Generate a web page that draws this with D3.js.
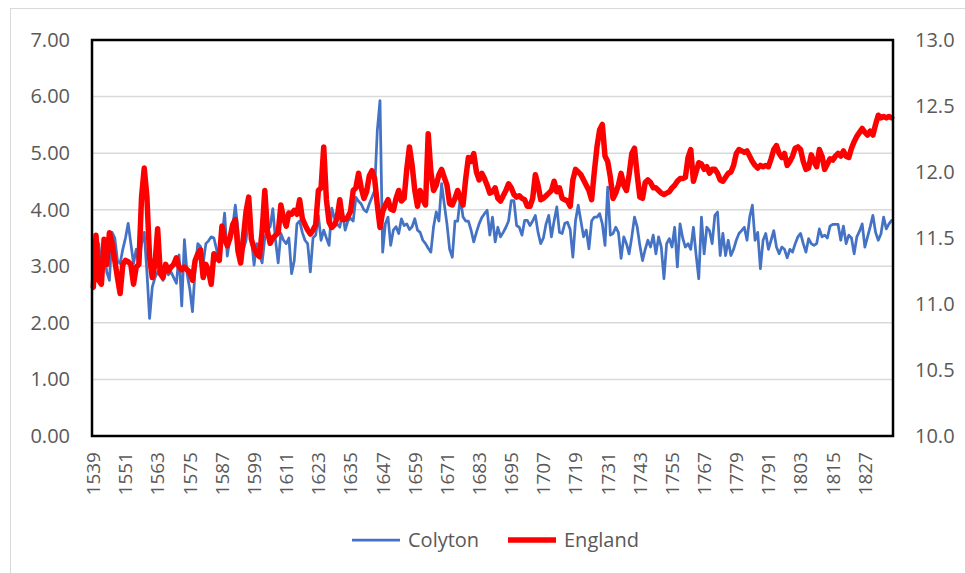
<!DOCTYPE html>
<html>
<head>
<meta charset="utf-8">
<script src="https://cdn.jsdelivr.net/npm/d3@7"></script>
<style>
  html, body { margin: 0; padding: 0; background: #ffffff; }
  svg { display: block; }
  text { font-family: "Open Sans", "Liberation Sans", sans-serif; fill: #595959; }
</style>
</head>
<body>
<svg id="chart" width="965" height="573"></svg>
<script>
// Annual series, first year 1539
const startYear = 1539;

// Colyton (left axis)
const colyton = [
  2.6, 3.2, 3.4, 3.0, 3.3, 2.9, 2.75, 3.6, 3.5, 3.1,
  3.05, 3.3, 3.5, 3.76, 3.4, 3.05, 3.3, 3.0, 3.4, 3.6,
  2.9, 2.08, 2.63, 2.8, 2.9, 3.0, 2.75, 2.95, 2.85, 2.9,
  2.8, 2.7, 3.2, 2.3, 3.47, 2.87, 2.6, 2.2, 2.94, 3.4,
  3.35, 3.05, 3.4, 3.45, 3.52, 3.5, 3.3, 3.1, 3.5, 3.94,
  3.18, 3.5, 3.7, 4.08, 3.64, 3.18, 3.3, 3.46, 3.88, 3.5,
  3.02, 3.4, 3.2, 3.06, 3.5, 3.64, 3.7, 4.02, 3.46, 3.06,
  3.58, 3.46, 3.4, 3.5, 2.87, 3.1, 3.75, 3.8, 3.6, 3.46,
  3.4, 2.9, 3.5, 3.55, 3.9, 3.46, 3.64, 3.5, 3.37, 4.03,
  3.85, 3.75, 3.69, 3.96, 3.64, 3.8, 3.85, 3.8, 4.22, 4.15,
  4.1, 4.0, 3.96, 4.1, 4.22, 4.34, 5.4, 5.93, 3.25, 3.75,
  3.87, 3.37, 3.64, 3.7, 3.58, 3.84, 3.72, 3.75, 3.65, 3.7,
  3.84, 3.64, 3.6, 3.46, 3.4, 3.32, 3.25, 3.7, 3.96, 3.8,
  4.46, 4.1, 3.75, 3.3, 3.16, 3.8, 3.8, 4.22, 3.87, 3.8,
  3.8, 3.64, 3.43, 3.6, 3.75, 3.86, 3.93, 3.99, 3.55, 3.87,
  3.43, 3.69, 3.52, 3.6, 3.69, 3.8, 4.16, 4.16, 3.72, 3.69,
  3.55, 3.81, 3.81, 3.72, 3.8, 3.9, 3.6, 3.4, 3.5, 3.75,
  3.9, 3.52, 3.8, 4.05, 3.6, 3.58, 3.76, 3.78, 3.65, 3.16,
  3.81, 4.08, 3.8, 3.52, 3.64, 3.31, 3.8, 3.87, 3.87, 3.93,
  3.75, 3.37, 4.4, 3.55, 3.58, 3.69, 3.6, 3.14, 3.52, 3.4,
  3.22, 3.52, 3.87, 3.7, 3.37, 3.1, 3.3, 3.46, 3.34, 3.55,
  3.22, 3.52, 3.34, 2.78, 3.4, 3.49, 3.34, 3.69, 2.99, 3.75,
  3.5, 3.34, 3.4, 3.3, 3.69, 3.2, 2.78, 3.87, 3.22, 3.69,
  3.63, 3.4, 3.9, 3.96, 3.19, 3.58, 3.19, 3.46, 3.19, 3.3,
  3.46, 3.58, 3.63, 3.69, 3.46, 3.87, 4.08, 3.46, 3.6, 2.96,
  3.46, 3.58, 3.3, 3.46, 3.63, 3.34, 3.22, 3.34, 3.3, 3.15,
  3.3, 3.25, 3.4, 3.52, 3.58, 3.4, 3.25, 3.49, 3.4, 3.37,
  3.4, 3.66, 3.52, 3.55, 3.5, 3.71, 3.74, 3.74, 3.74, 3.46,
  3.71, 3.4, 3.55, 3.5, 3.22, 3.52, 3.62, 3.75, 3.34, 3.52,
  3.7, 3.9, 3.6, 3.46, 3.57, 3.87, 3.66, 3.75, 3.81
];

// England (right axis)
const england = [
  11.13, 11.52, 11.18, 11.15, 11.49, 11.3, 11.54, 11.46, 11.33, 11.2,
  11.08, 11.3, 11.33, 11.32, 11.3, 11.15, 11.28, 11.3, 11.81, 12.03,
  11.81, 11.35, 11.2, 11.3, 11.57, 11.23, 11.2, 11.3, 11.25, 11.28,
  11.3, 11.35, 11.28, 11.26, 11.28, 11.26, 11.24, 11.18, 11.33, 11.38,
  11.41, 11.2, 11.3, 11.25, 11.15, 11.38, 11.35, 11.33, 11.59, 11.5,
  11.44, 11.5, 11.6, 11.64, 11.4, 11.31, 11.5, 11.7, 11.81, 11.49,
  11.42, 11.38, 11.36, 11.55, 11.86, 11.55, 11.46, 11.5, 11.52, 11.54,
  11.75, 11.65, 11.59, 11.69, 11.68, 11.71, 11.68, 11.79, 11.65, 11.6,
  11.56, 11.53, 11.56, 11.6, 11.86, 11.88, 12.19, 11.79, 11.62, 11.58,
  11.6, 11.65, 11.79, 11.64, 11.64, 11.66, 11.7, 11.86, 11.88, 11.99,
  11.88, 11.8, 11.85, 11.97, 12.01, 11.95, 11.75, 11.58, 11.7, 11.75,
  11.79, 11.72, 11.71, 11.8, 11.86, 11.78, 11.8, 12.02, 12.19, 12.05,
  11.86, 11.74, 11.86, 11.79, 11.75, 12.29, 12.0, 11.86, 11.9, 11.98,
  12.02, 11.96, 11.9, 11.76, 11.75, 11.8, 11.86, 11.8, 11.75, 11.95,
  12.11, 12.08, 12.14, 12.0, 11.94, 11.99, 11.95, 11.9, 11.84, 11.85,
  11.88, 11.8, 11.78, 11.82, 11.86, 11.91, 11.88, 11.83, 11.81, 11.82,
  11.8, 11.79, 11.74, 11.74, 11.8, 11.98, 11.9, 11.79, 11.8, 11.82,
  11.84, 11.86, 11.93, 11.85, 11.88, 11.8, 11.79, 11.78, 11.74, 11.94,
  12.02, 12.0, 11.98, 11.94, 11.9, 11.86, 11.79, 12.0, 12.19, 12.32,
  12.36, 12.12, 12.08, 11.96, 11.8, 11.84, 11.9, 11.99, 11.9, 11.86,
  11.98, 12.14, 12.18, 11.98, 11.81, 11.8, 11.92, 11.94, 11.92, 11.88,
  11.88, 11.86, 11.84, 11.83, 11.84, 11.85, 11.88, 11.9, 11.93, 11.95,
  11.95, 11.96, 12.11, 12.17, 11.93, 12.0, 12.07, 12.06, 12.02, 12.04,
  11.99, 12.02, 12.02, 11.99, 11.94, 11.93, 11.96, 11.99, 12.0, 12.05,
  12.14, 12.17, 12.16, 12.15, 12.16, 12.12, 12.08, 12.05, 12.03, 12.05,
  12.04, 12.05, 12.04, 12.1, 12.17, 12.2, 12.14, 12.11, 12.14, 12.05,
  12.08, 12.12, 12.18, 12.19, 12.17, 12.08, 12.02, 12.03, 12.13, 12.08,
  12.04, 12.17, 12.12, 12.02, 12.06, 12.1, 12.09, 12.12, 12.14, 12.12,
  12.16, 12.12, 12.11, 12.18, 12.23, 12.27, 12.3, 12.33, 12.3, 12.28,
  12.31, 12.28, 12.36, 12.43, 12.41, 12.42, 12.41, 12.42, 12.41
];

const years = d3.range(startYear, startYear + colyton.length);
const xTickYears = d3.range(1539, 1838, 12);
const leftTicks = [0, 1, 2, 3, 4, 5, 6, 7];
const rightTicks = [10, 10.5, 11, 11.5, 12, 12.5, 13];
const seriesNames = ["Colyton", "England"];
const seriesColors = ["#4472C4", "#FF0000"];

const svg = d3.select("#chart");
const plot = { left: 92, right: 893, top: 40, bottom: 436 };

// outer chart frame
svg.append("rect")
  .attr("x", 10.5).attr("y", 8.5)
  .attr("width", 965).attr("height", 600)
  .attr("fill", "none").attr("stroke", "#d9d9d9").attr("stroke-width", 1);

const x = d3.scaleBand().domain(years).range([plot.left, plot.right]);
const yL = d3.scaleLinear().domain([0, 7]).range([plot.bottom, plot.top]);
const yR = d3.scaleLinear().domain([10, 13]).range([plot.bottom, plot.top]);
const cx = d => x(d) + x.bandwidth() / 2;

// horizontal gridlines
svg.append("g")
  .selectAll("line")
  .data(leftTicks.slice(1, -1))
  .join("line")
  .attr("x1", plot.left).attr("x2", plot.right)
  .attr("y1", d => yL(d)).attr("y2", d => yL(d))
  .attr("stroke", "#d9d9d9").attr("stroke-width", 1.5);

// left axis
const gL = svg.append("g")
  .attr("transform", `translate(${plot.left},0)`)
  .call(d3.axisLeft(yL).tickValues(leftTicks).tickFormat(d3.format(".2f")).tickSize(0).tickPadding(22));
gL.select(".domain").remove();
gL.selectAll("text").style("font-size", "20px").attr("fill", "#595959");

// right axis
const gR = svg.append("g")
  .attr("transform", `translate(${plot.right},0)`)
  .call(d3.axisRight(yR).tickValues(rightTicks).tickFormat(d3.format(".1f")).tickSize(0).tickPadding(22));
gR.select(".domain").remove();
gR.selectAll("text").style("font-size", "20px").attr("fill", "#595959");

// bottom axis with vertical year labels
const gB = svg.append("g")
  .attr("transform", `translate(0,${plot.bottom})`)
  .call(d3.axisBottom(x).tickValues(xTickYears).tickSize(0));
gB.select(".domain").remove();
gB.selectAll("text")
  .style("font-size", "19px").attr("fill", "#595959")
  .attr("text-anchor", "end")
  .attr("transform", "rotate(-90)")
  .attr("x", -16).attr("y", 0).attr("dy", "0.36em");

// axis baseline
svg.append("line")
  .attr("x1", plot.left).attr("x2", plot.right)
  .attr("y1", plot.bottom).attr("y2", plot.bottom)
  .attr("stroke", "#a6a6a6").attr("stroke-width", 2);

// series lines
const lineL = d3.line().x((d, i) => cx(years[i])).y(d => yL(d));
const lineR = d3.line().x((d, i) => cx(years[i])).y(d => yR(d));

svg.append("path")
  .datum(colyton)
  .attr("d", lineL)
  .attr("fill", "none").attr("stroke", seriesColors[0])
  .attr("stroke-width", 2.75).attr("stroke-linejoin", "round").attr("stroke-linecap", "round");

svg.append("path")
  .datum(england)
  .attr("d", lineR)
  .attr("fill", "none").attr("stroke", seriesColors[1])
  .attr("stroke-width", 5.5).attr("stroke-linejoin", "round").attr("stroke-linecap", "round");

// plot frame
svg.append("rect")
  .attr("x", plot.left).attr("y", plot.top)
  .attr("width", plot.right - plot.left).attr("height", plot.bottom - plot.top)
  .attr("fill", "none").attr("stroke", "#000000").attr("stroke-width", 2.5);

// legend
const legend = svg.append("g");
const legendItems = [
  { name: seriesNames[0], color: seriesColors[0], width: 2.75, x: 352 },
  { name: seriesNames[1], color: seriesColors[1], width: 5.5, x: 508 }
];
legendItems.forEach(it => {
  legend.append("line")
    .attr("x1", it.x).attr("x2", it.x + 48)
    .attr("y1", 540).attr("y2", 540)
    .attr("stroke", it.color).attr("stroke-width", it.width);
  legend.append("text")
    .attr("x", it.x + 56).attr("y", 540).attr("dy", "0.35em")
    .style("font-size", "20px")
    .text(it.name);
});
</script>
</body>
</html>
